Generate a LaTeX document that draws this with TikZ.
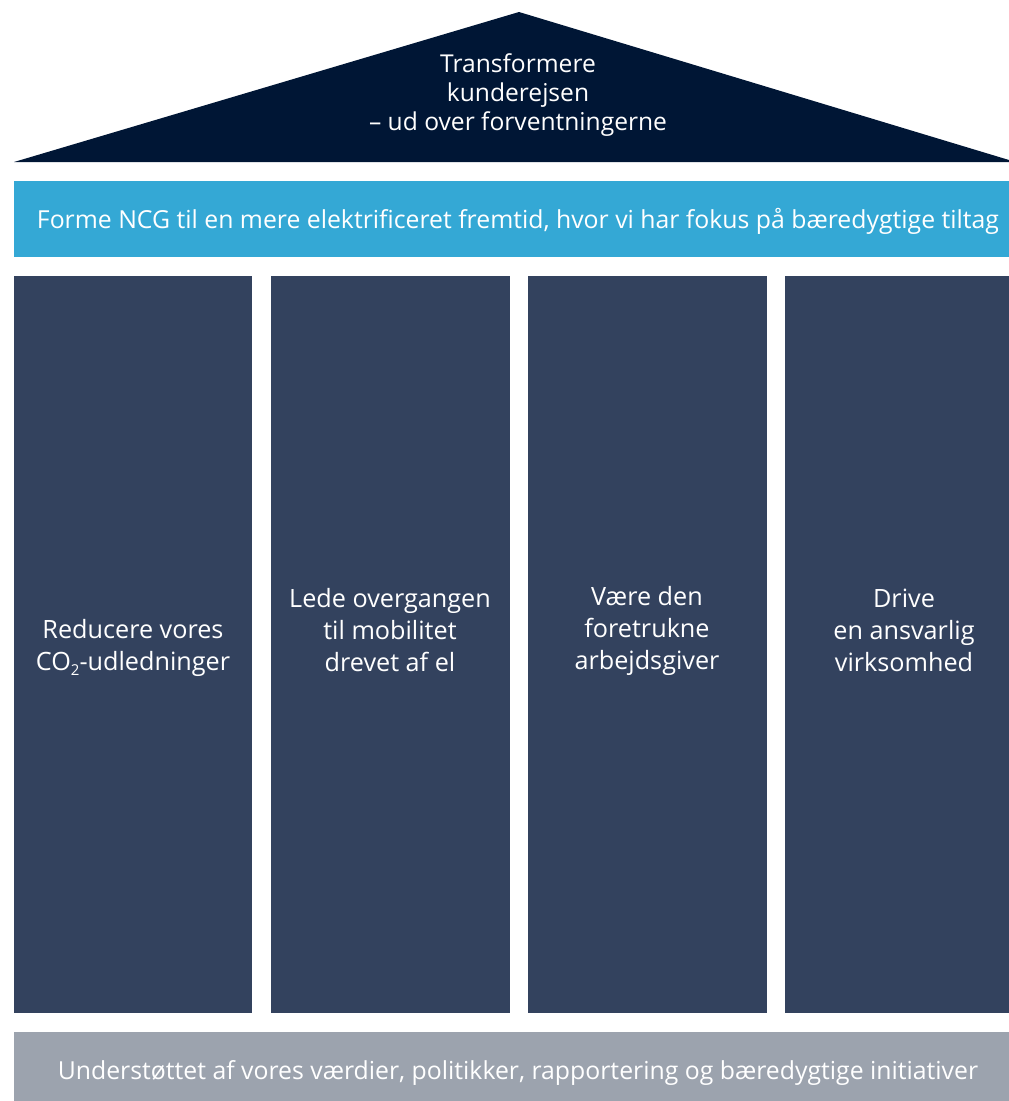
\documentclass[tikz,border=0pt]{standalone}
\usepackage{fontspec}
\setmainfont{Open Sans}
\definecolor{roof}{HTML}{001635}
\definecolor{band}{HTML}{34A8D5}
\definecolor{pillar}{HTML}{33425E}
\definecolor{base}{HTML}{9CA3AE}
\newcommand{\subtwo}{\raisebox{-0.4ex}{\fontsize{15}{15}\selectfont 2}}
\begin{document}
\begin{tikzpicture}[x=1pt,y=-1pt,
  lbl/.style={text=white,align=center,inner sep=0pt},
  pil/.style={fill=pillar,draw=none}]
\useasboundingbox (0,0) rectangle (1009,1101);
% roof
\fill[roof] (14,162) -- (519,12) -- (1009,160) -- (1009,162) -- cycle;
\node[lbl,font=\fontsize{24.6}{29}\selectfont] (rooftxt) at (518,95) {Transformere\\kunderejsen\\– ud over forventningerne};
% band
\fill[band] (14,181) rectangle (1009,257);
\node[lbl,font=\fontsize{24.8}{29}\selectfont] (bandtxt) at (518,221) {Forme NCG til en mere elektrificeret fremtid, hvor vi har fokus på bæredygtige tiltag};
% pillars
\fill[pil] (14,276) rectangle (252,1013);
\fill[pil] (271,276) rectangle (510,1013);
\fill[pil] (528,276) rectangle (767,1013);
\fill[pil] (785,276) rectangle (1009,1013);
\node[lbl,font=\fontsize{25.2}{32}\selectfont] (p1) at (133,648) {Reducere vores\\CO\subtwo-udledninger};
\node[lbl,font=\fontsize{25.2}{32}\selectfont] (p2) at (390,630) {Lede overgangen\\til mobilitet\\drevet af el};
\node[lbl,font=\fontsize{25.2}{32}\selectfont] (p3) at (647,631) {Være den\\foretrukne\\arbejdsgiver};
\node[lbl,font=\fontsize{25.2}{32}\selectfont] (p4) at (904,630) {Drive\\en ansvarlig\\virksomhed};
% base
\fill[base] (14,1032) rectangle (1009,1101);
\node[lbl,font=\fontsize{24.8}{29}\selectfont] (basetxt) at (518,1073) {Understøttet af vores værdier, politikker, rapportering og bæredygtige initiativer};
\end{tikzpicture}
\end{document}
